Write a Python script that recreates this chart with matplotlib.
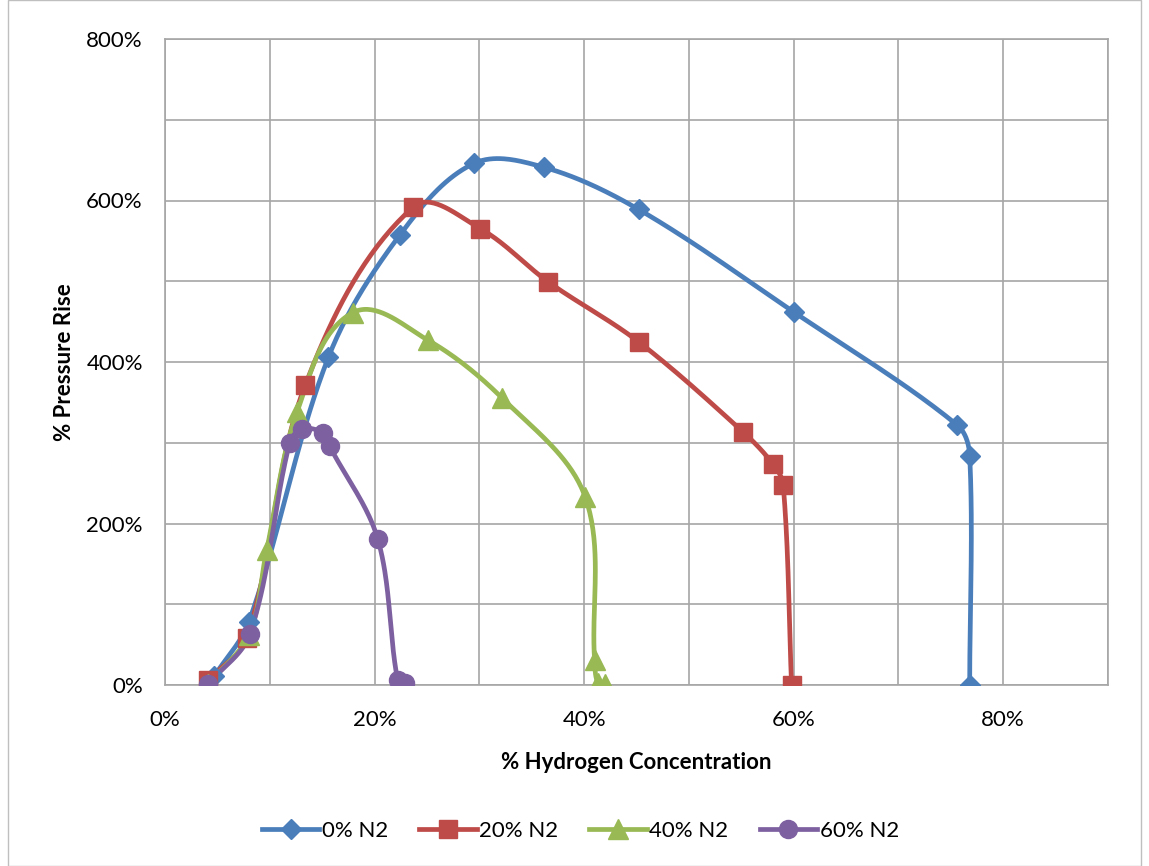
import numpy as np
import matplotlib
matplotlib.use("Agg")
import matplotlib.pyplot as plt
from matplotlib.patches import Rectangle

# ---- data (% hydrogen, % pressure rise) ----
x_n0 = [4.7, 8.0, 15.6, 22.4, 29.5, 36.2, 45.2, 60.0, 75.6, 76.8, 76.8]
y_n0 = [11, 78, 406, 557, 646, 641, 589, 462, 322, 284, 0]

x_n20 = [4.1, 7.8, 13.4, 23.7, 30.1, 36.6, 45.2, 55.2, 58.0, 59.0, 59.8]
y_n20 = [6, 58, 372, 592, 565, 499, 425, 313, 274, 248, 0]

x_n40 = [4.1, 8.0, 9.7, 12.6, 17.9, 25.1, 32.2, 40.1, 41.0, 41.3, 42.0]
y_n40 = [1, 62, 167, 338, 461, 427, 355, 233, 31, 3, 1]

x_n60 = [4.1, 8.1, 11.9, 13.1, 15.1, 15.7, 20.3, 22.2, 22.9]
y_n60 = [1, 63, 300, 317, 312, 296, 181, 6, 3]

labels = ["0% N2", "20% N2", "40% N2", "60% N2"]
colors = ["#4A7EBB", "#BE4B48", "#98B954", "#7D60A0"]
markers = ["D", "s", "^", "o"]
msizes = [10, 13, 14, 13]

x_ticks = [0, 20, 40, 60, 80]
y_ticks = [0, 200, 400, 600, 800]

W, H = 1149, 866
fig = plt.figure(figsize=(W / 100, H / 100), dpi=100)
plt.rcParams['font.family'] = ['Lato', 'DejaVu Sans']
ax = fig.add_axes([165 / W, 1 - 685 / H, (1108 - 165) / W, (685 - 39) / H])
ax.set_xlim(0, 90)
ax.set_ylim(0, 800)

fig.patches.append(Rectangle((8 / W, 0.0), 1 - 16 / W, 1.0, transform=fig.transFigure,
                             fill=False, edgecolor="#BFBFBF", lw=1.0))


def smooth(xs, ys, n=40):
    # Bezier smoothing in display space with tangents scaled by segment lengths
    pts = ax.transData.transform(np.column_stack([xs, ys]))
    m = len(pts)
    tang = []
    for i in range(m):
        p0 = pts[i - 1] if i > 0 else pts[i]
        p2 = pts[i + 1] if i + 1 < m else pts[i]
        v = p2 - p0
        nv = np.linalg.norm(v)
        tang.append(v / nv if nv > 0 else np.zeros(2))
    out = [pts[0]]
    for i in range(m - 1):
        p1, p2 = pts[i], pts[i + 1]
        d = np.linalg.norm(p2 - p1)
        c1 = p1 + tang[i] * d / 3.0
        c2 = p2 - tang[i + 1] * d / 3.0
        t = np.linspace(0, 1, n)[1:, None]
        seg = ((1 - t) ** 3) * p1 + 3 * ((1 - t) ** 2) * t * c1 + 3 * (1 - t) * t ** 2 * c2 + t ** 3 * p2
        out.extend(seg)
    out = np.array(out)
    dd = ax.transData.inverted().transform(out)
    return dd[:, 0], dd[:, 1]


series = [(x_n0, y_n0), (x_n20, y_n20), (x_n40, y_n40), (x_n60, y_n60)]
handles = []
for (xs, ys), lab, c, mk, ms in zip(series, labels, colors, markers, msizes):
    sx, sy = smooth(xs, ys)
    ax.plot(sx, sy, color=c, lw=3.4, solid_capstyle="round", zorder=3)
    ax.plot(xs, ys, linestyle="none", marker=mk, ms=ms, color=c, zorder=4)
    h, = ax.plot([], [], color=c, lw=3.4, marker=mk, ms=ms, label=lab)
    handles.append(h)

ax.set_xticks(np.arange(0, 91, 10), minor=True)
ax.set_yticks(np.arange(0, 801, 100), minor=True)
ax.set_xticks(x_ticks)
ax.set_yticks(y_ticks)
ax.set_xticklabels([f"{v}%" for v in x_ticks])
ax.set_yticklabels([f"{v}%" for v in y_ticks])
ax.grid(True, which="both", color="#A6A6A6", lw=1.2, zorder=0)
ax.set_axisbelow(True)
ax.tick_params(axis="x", which="both", length=0, labelsize=16, pad=18, colors="black")
ax.tick_params(axis="y", which="both", length=0, labelsize=16, pad=16, colors="black")
for s in ax.spines.values():
    s.set_color("#A6A6A6")
    s.set_linewidth(1.2)

ax.set_xlabel("% Hydrogen Concentration", fontsize=16, fontweight="bold", labelpad=16)
ax.set_ylabel("% Pressure Rise", fontsize=16, fontweight="bold", labelpad=8)

fig.legend(handles=handles, labels=labels, loc="center", bbox_to_anchor=(0.505, 1 - 831 / H),
           ncol=4, frameon=False, fontsize=16, handlelength=2.6, columnspacing=1.4, handletextpad=0.1)

fig.savefig("out.png", dpi=100)
